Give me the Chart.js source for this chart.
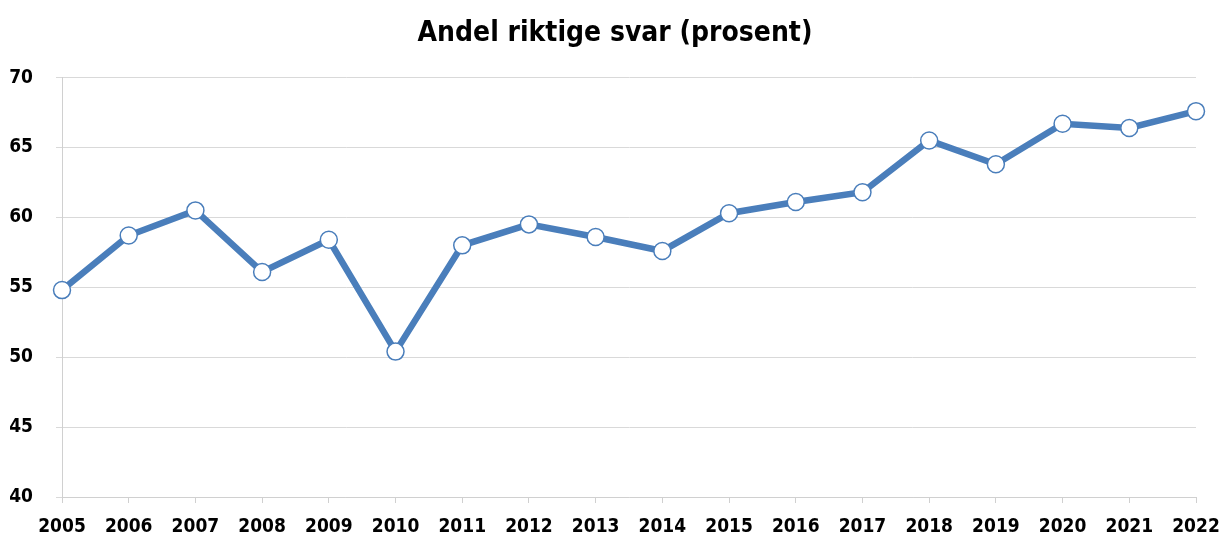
<!DOCTYPE html>
<html>
<head>
<meta charset="utf-8">
<script src="https://cdn.jsdelivr.net/npm/chart.js@4/dist/chart.umd.min.js"></script>
<style>
  html, body { margin: 0; padding: 0; background: #fff; }
  #wrap { width: 1224px; height: 538px; }
</style>
</head>
<body>
<div id="wrap"><canvas id="Linegraph"></canvas></div>
<script>
const years = ['2005', '2006', '2007', '2008', '2009', '2010', '2011', '2012', '2013', '2014', '2015', '2016', '2017', '2018', '2019', '2020', '2021', '2022'];
const shareCorrect = [54.8, 58.7, 60.5, 56.1, 58.4, 50.4, 58.0, 59.5, 58.6, 57.6, 60.3, 61.1, 61.8, 65.5, 63.8, 66.7, 66.4, 67.6];
const yTicks = [40, 45, 50, 55, 60, 65, 70];

const font = "'DejaVu Sans Condensed', 'DejaVu Sans', sans-serif";

const ctx = document.getElementById('Linegraph');

new Chart(ctx, {
  type: 'line',
  data: {
    labels: years,
    datasets: [{
      label: 'Andel riktige svar',
      data: shareCorrect,
      borderColor: 'rgb(74, 126, 187)',
      borderWidth: 6.5,
      pointRadius: 8.5,
      pointHoverRadius: 8.5,
      pointBackgroundColor: '#ffffff',
      pointBorderColor: 'rgb(74, 126, 187)',
      pointBorderWidth: 1.5,
      tension: 0,
      fill: false
    }]
  },
  options: {
    responsive: true,
    maintainAspectRatio: false,
    animation: false,
    layout: { padding: { left: 6, right: 0, top: 0, bottom: 0 } },
    scales: {
      x: {
        offset: false,
        afterFit: axis => {
          axis.height = 41;
          axis.paddingLeft = 0;
          axis.paddingRight = 28;
        },
        grid: { display: true, drawOnChartArea: false, drawTicks: true, tickLength: 6, color: '#d0d0d0' },
        border: { color: '#d0d0d0' },
        ticks: { color: '#000', font: { family: font, size: 19, weight: 'bold' }, padding: 13, maxRotation: 0, autoSkip: false }
      },
      y: {
        min: 40,
        max: 70,
        afterBuildTicks: axis => { axis.ticks = yTicks.map(v => ({ value: v })); },
        afterFit: axis => { axis.width = 56; },
        grid: { color: '#d9d9d9', tickLength: 6 },
        border: { color: '#d0d0d0' },
        ticks: { color: '#000', font: { family: font, size: 19, weight: 'bold' }, padding: 23 }
      }
    },
    plugins: {
      legend: { display: false },
      tooltip: { enabled: false },
      title: {
        display: true,
        text: 'Andel riktige svar (prosent)',
        color: '#000',
        font: { family: font, size: 28, weight: 'bold' },
        padding: { top: 17, bottom: 27 }
      }
    }
  }
});
</script>
</body>
</html>
